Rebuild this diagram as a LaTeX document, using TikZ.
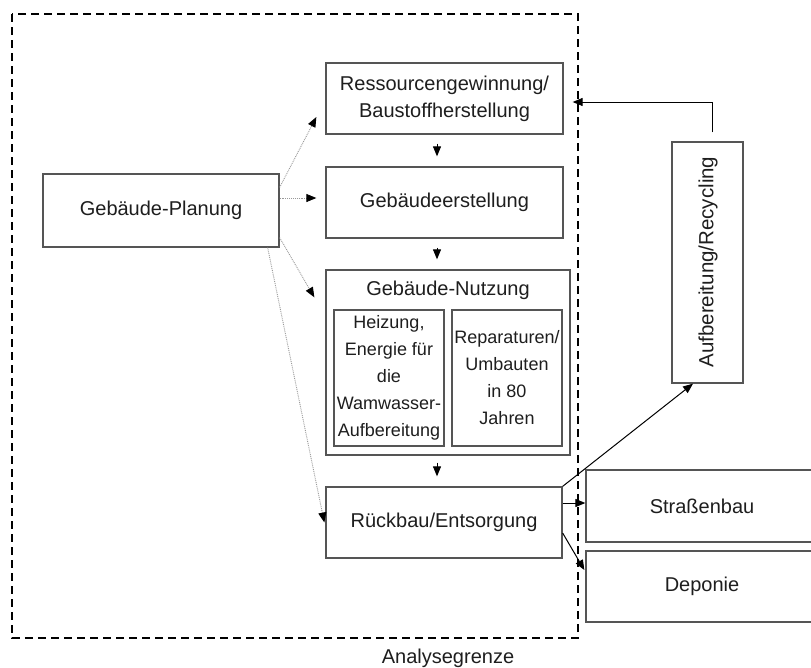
\documentclass[tikz,border=0pt]{standalone}
\usepackage{fontspec}
\setmainfont{Liberation Sans}
\usetikzlibrary{arrows.meta,calc}

\definecolor{boxline}{HTML}{555555}
\definecolor{txt}{HTML}{1E1E1E}

\tikzset{
  box/.style={draw=boxline, line width=1.3pt, inner sep=0pt, align=center,
              text=txt, font=\fontsize{20}{27}\selectfont},
  subbox/.style={box, font=\fontsize{18}{27}\selectfont},
  flow/.style={draw=black, line width=1pt, -{Triangle[length=10pt,width=8pt]}},
  plan/.style={draw=gray!80, line width=0.9pt, densely dotted,
               -{Triangle[length=10pt,width=8pt,black]}},
  shortflow/.style={flow, shorten <=9pt, shorten >=10pt},
  boundary/.style={draw=black, line width=2.2pt, dash pattern=on 8pt off 5pt},
}

\begin{document}
\begin{tikzpicture}[x=1pt, y=-1pt]
  % canvas
  \useasboundingbox[fill=white] (0,0) rectangle (811,667);

  % system boundary
  \draw[boundary] (12,14) rectangle (578,638);
  \node[text=txt, font=\fontsize{20}{24}\selectfont] (grenze) at (448,658) {Analysegrenze};

  % planning
  \node[box, minimum width=236pt, minimum height=73pt] (plan) at (161,210.5) {Gebäude-Planung};

  % life-cycle chain
  \node[box, minimum width=237pt, minimum height=71pt] (res) at (444.5,98.5)
    {Ressourcengewinnung/\\Baustoffherstellung};
  \node[box, minimum width=237pt, minimum height=71pt] (erst) at (444.5,202.5) {Gebäudeerstellung};
  \node[box, minimum width=244pt, minimum height=185pt] (nutz) at (448,362.5) {};
  \node[text=txt, font=\fontsize{20}{24}\selectfont] (nutztitel) at (448,290) {Gebäude-Nutzung};
  \node[subbox, minimum width=110pt, minimum height=136pt] (heiz) at (389,378)
    {Heizung,\\Energie für\\die\\Wamwasser-\\Aufbereitung};
  \node[subbox, minimum width=110pt, minimum height=136pt] (rep) at (507,378)
    {Reparaturen/\\Umbauten\\in 80\\Jahren};
  \node[box, minimum width=236pt, minimum height=71pt] (rueck) at (444,522.5) {Rückbau/Entsorgung};

  % outside the boundary
  \node[box, minimum width=71pt, minimum height=241pt] (auf) at (707.5,262.5) {};
  \node[text=txt, font=\fontsize{20.5}{24}\selectfont, rotate=90] (auftext) at (708,262)
    {Aufbereitung/Recycling};
  \node[box, minimum width=232pt, minimum height=72pt] (strasse) at (702,506) {Straßenbau};
  \node[box, minimum width=232pt, minimum height=71pt] (depo) at (702,586.5) {Deponie};

  % planning influences
  \draw[plan] ($(plan.north east)+(0,14)$) -- ($(res.west)+(-9,18.5)$);
  \draw[plan] ($(plan.east)+(0,-12.5)$) -- ($(erst.west)+(-9,-4.5)$);
  \draw[plan] ($(plan.south east)+(0,-10)$) -- ($(nutz.north west)+(-11,28)$);
  \draw[plan] ($(plan.south east)+(-12,0)$) -- ($(rueck.west)+(-1,0)$);

  % main sequence
  \draw[shortflow] ($(res.south)+(-7.5,0)$) -- ($(erst.north)+(-7.5,0)$);
  \draw[shortflow] ($(erst.south)+(-7.5,0)$) -- ($(nutz.north)+(-11,0)$);
  \draw[shortflow, shorten <=7pt] ($(nutz.south)+(-11,0)$) -- ($(rueck.north)+(-7,0)$);

  % material return loop
  \draw[flow] ($(auf.north)+(4.5,-9)$) |- ($(res.east)+(9,3.5)$);
  \draw[flow] (rueck.north east) -- ($(auf.south)+(-14.5,0)$);
  \draw[flow] ($(rueck.east)+(0,-19.5)$) -- ($(strasse.west)+(0,-3)$);
  \draw[flow] ($(rueck.east)+(0,10.5)$) -- ($(depo.west)+(-1,-16.5)$);
\end{tikzpicture}
\end{document}
